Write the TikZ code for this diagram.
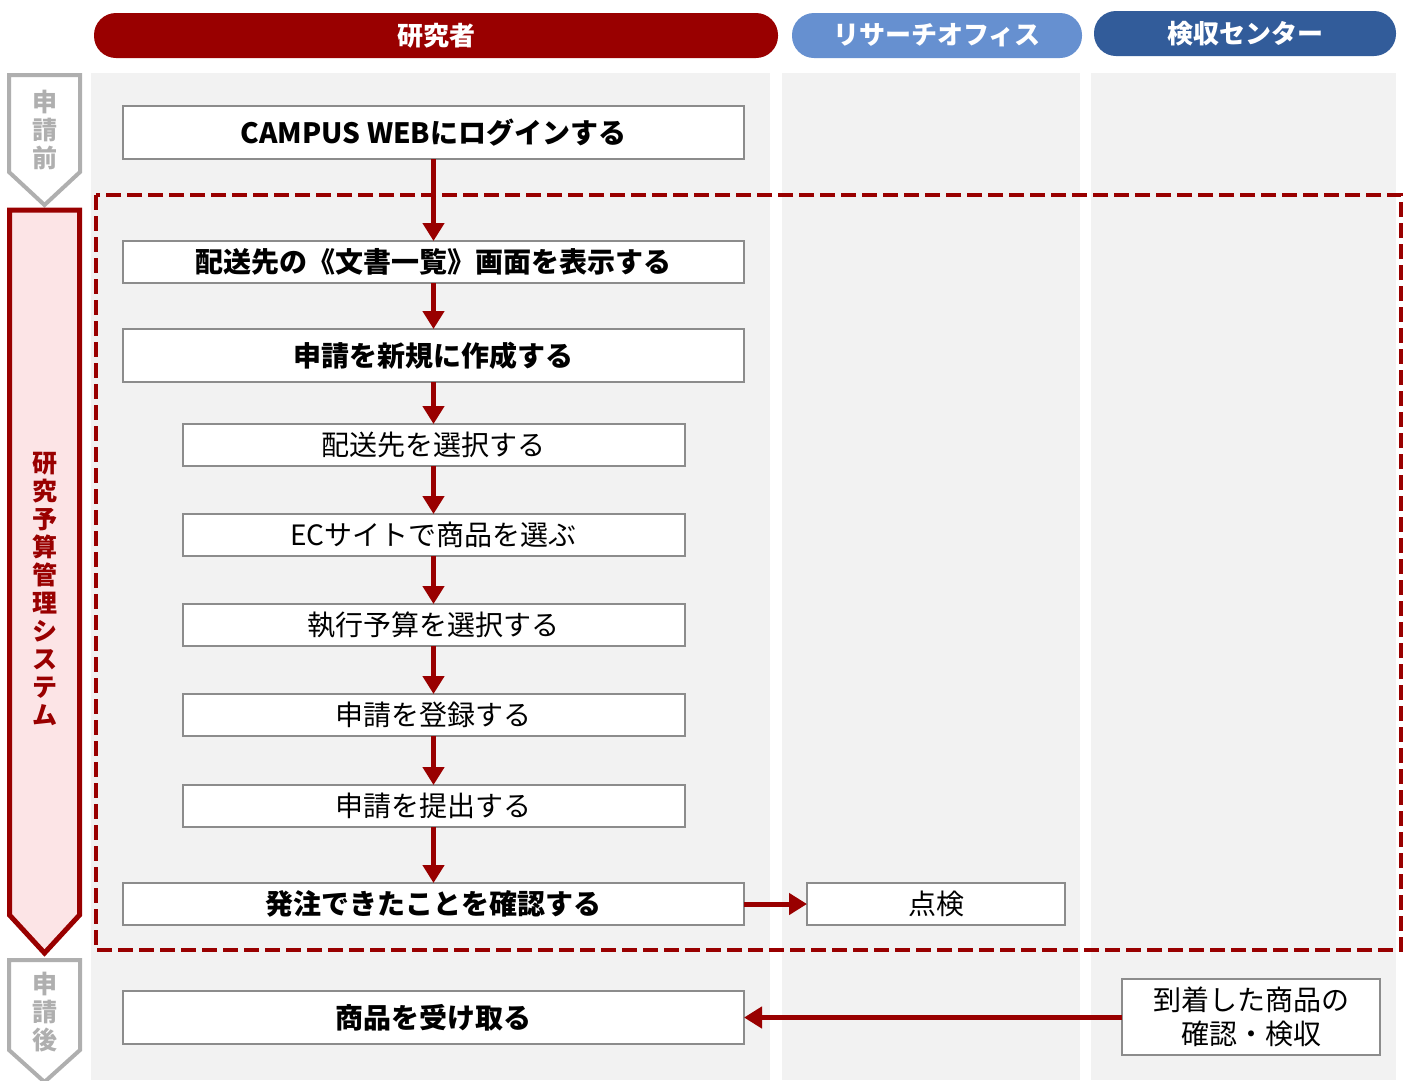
\documentclass[tikz,border=0pt]{standalone}
\usepackage{fontspec}
\setmainfont{Noto Sans CJK JP}
\newfontfamily\jp{Noto Sans CJK JP}
\usetikzlibrary{arrows.meta}
\definecolor{dred}{HTML}{990000}
\definecolor{lblue}{HTML}{6690D0}
\definecolor{dblue}{HTML}{325C9A}
\definecolor{lanegray}{HTML}{F2F2F2}
\definecolor{boxgray}{HTML}{8C8C8C}
\definecolor{phgray}{HTML}{AFAFAF}
\definecolor{pink}{HTML}{FCE4E6}
\tikzset{
  pill/.style={rounded corners=22pt, minimum height=45pt, inner sep=0pt, outer sep=0pt, text=white, font=\jp\fontsize{26}{28}\selectfont\bfseries},
  lane/.style={fill=lanegray, draw=none},
  stepbig/.style={draw=boxgray, line width=2pt, fill=white, minimum width=621pt, inner sep=0pt, outer sep=0pt, font=\jp\fontsize{28}{30}\selectfont\bfseries},
  stepsmall/.style={draw=boxgray, line width=2pt, fill=white, minimum width=502pt, minimum height=42pt, inner sep=0pt, outer sep=0pt, font=\jp\fontsize{28}{30}\selectfont},
  flow/.style={draw=dred, line width=5pt, -{Triangle[length=18pt,width=21pt]}},
  phase/.style={align=center, font=\jp\fontsize{25}{28}\selectfont\bfseries, inner sep=0pt},
}
\begin{document}
\begin{tikzpicture}[x=1pt,y=-1pt]
\useasboundingbox (0,0) rectangle (1407,1080);
% lanes
\fill[lane] (91,73) rectangle (770,1080);
\fill[lane] (782,73) rectangle (1080,1080);
\fill[lane] (1091,73) rectangle (1396,1080);
% header pills
\node[pill, fill=dred, minimum width=684pt] (h1) at (436,35.5) {研究者};
\node[pill, fill=lblue, minimum width=290pt] (h2) at (937,35.5) {リサーチオフィス};
\node[pill, fill=dblue, minimum width=302pt] (h3) at (1245,33.5) {検収センター};
% phase arrows
\draw[draw=phgray, fill=white, line width=4pt, line join=miter]
  (9,75) -- (80,75) -- (80,172) -- (44.5,205) -- (9,172) -- cycle;
\node[phase, text=phgray] (p1) at (44.5,130) {申\\請\\前};
\draw[draw=dred, fill=pink, line width=5pt, line join=miter]
  (9.5,210) -- (79.5,210) -- (79.5,915) -- (44.5,953) -- (9.5,915) -- cycle;
\node[phase, text=dred] (p2) at (44.5,589) {研\\究\\予\\算\\管\\理\\シ\\ス\\テ\\ム};
\draw[draw=phgray, fill=white, line width=4pt, line join=miter]
  (9,960) -- (80,960) -- (80,1050) -- (44.5,1082) -- (9,1050) -- cycle;
\node[phase, text=phgray] (p3) at (44.5,1012) {申\\請\\後};
% dashed frame
\draw[dred, line width=4pt, dash pattern=on 15pt off 6pt] (96,195) rectangle (1401,950);
% steps
\node[stepbig, minimum height=53pt] (b1) at (433.5,132.5) {CAMPUS WEBにログインする};
\node[stepbig, minimum height=42pt] (b2) at (433.5,262) {配送先の《文書一覧》画面を表示する};
\node[stepbig, minimum height=53pt] (b3) at (433.5,355.5) {申請を新規に作成する};
\node[stepsmall] (b4) at (433.5,445) {配送先を選択する};
\node[stepsmall] (b5) at (433.5,535) {ECサイトで商品を選ぶ};
\node[stepsmall] (b6) at (433.5,625) {執行予算を選択する};
\node[stepsmall] (b7) at (433.5,715) {申請を登録する};
\node[stepsmall] (b8) at (433.5,806) {申請を提出する};
\node[stepbig, minimum height=42pt] (b9) at (433.5,904) {発注できたことを確認する};
\node[stepsmall, minimum width=258pt] (b10) at (936,904) {点検};
\node[stepbig, minimum height=53pt] (b11) at (433.5,1017.5) {商品を受け取る};
\node[stepsmall, minimum width=258pt, minimum height=76pt, align=center, font=\jp\fontsize{28}{34}\selectfont] (b12) at (1251,1017) {到着した商品の\\確認・検収};
% connectors
\draw[flow] (b1) -- (b2);
\draw[flow] (b2) -- (b3);
\draw[flow] (b3) -- (b4);
\draw[flow] (b4) -- (b5);
\draw[flow] (b5) -- (b6);
\draw[flow] (b6) -- (b7);
\draw[flow] (b7) -- (b8);
\draw[flow] (b8) -- (b9);
\draw[flow] (b9) -- (b10);
\draw[flow] (b12.west |- b11) -- (b11);
\end{tikzpicture}
\end{document}
